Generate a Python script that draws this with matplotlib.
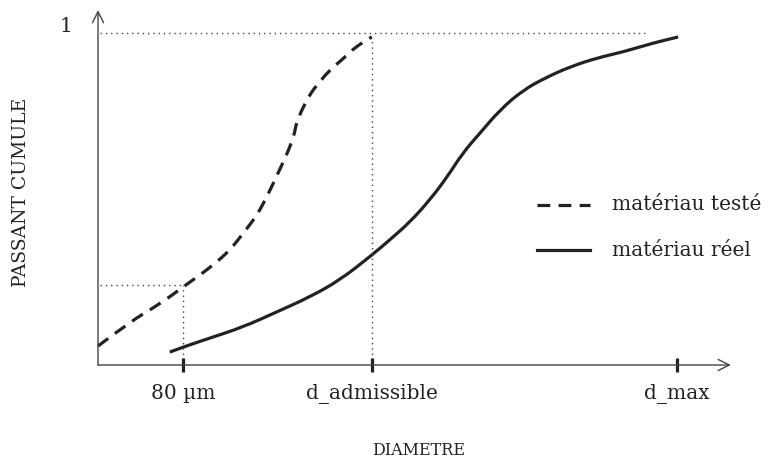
import numpy as np
import matplotlib.pyplot as plt
from matplotlib.path import Path
from matplotlib.patches import PathPatch

plt.rcParams['font.family'] = ['DejaVu Serif']

# axis scale: x normalised so d_max = 1, y = cumulative passing fraction
tick_pos = [0.147, 0.473, 1.0]
tick_labels = ['80 µm', 'd_admissible', 'd_max']

# material tested (dashed)
teste_x = [0.0, 0.055, 0.107, 0.147, 0.171, 0.199, 0.228,
           0.254, 0.275, 0.294, 0.311, 0.328, 0.339, 0.342, 0.352, 0.361, 0.371,
           0.383, 0.397, 0.427, 0.439, 0.458, 0.473]
teste_y = [0.057, 0.130, 0.184, 0.235, 0.265, 0.301, 0.346,
           0.404, 0.452, 0.515, 0.578, 0.642, 0.693, 0.726, 0.768, 0.798, 0.828,
           0.852, 0.883, 0.928, 0.949, 0.973, 0.988]

# real material (solid)
reel_x = [0.124, 0.147, 0.193, 0.250, 0.309, 0.366, 0.418, 0.473, 0.504, 0.539,
          0.573, 0.603, 0.630, 0.660, 0.694, 0.734, 0.775, 0.815, 0.862, 0.907,
          0.959, 1.002]
reel_y = [0.039, 0.054, 0.081, 0.114, 0.160, 0.205, 0.256, 0.331, 0.377, 0.431,
          0.497, 0.566, 0.639, 0.699, 0.768, 0.828, 0.867, 0.898, 0.925, 0.943,
          0.970, 0.988]

x_adm = tick_pos[1]
x_80 = tick_pos[0]
y_80 = 0.24

ink = '#222222'
dash = (0, (4.0, 2.6))
dots = (0, (1, 2.8))


def smooth_path(xs, ys):
    # quadratic bezier through the midpoints, read points used as controls
    pts = np.column_stack([xs, ys])
    verts = [pts[0]]
    codes = [Path.MOVETO]
    for i in range(1, len(pts) - 1):
        verts += [pts[i], (pts[i] + pts[i + 1]) / 2]
        codes += [Path.CURVE3, Path.CURVE3]
    verts.append(pts[-1])
    codes.append(Path.LINETO)
    return Path(verts, codes)


fig = plt.figure(figsize=(7.68, 4.70), dpi=100)
ax = fig.add_axes([0, 0, 1, 1])
ax.set_xlim(-98 / 579, (768 - 98) / 579)
ax.set_ylim((365 - 470) / 332, 365 / 332)
ax.axis('off')

# axes with arrows
ax.annotate('', xy=(1.093, 0), xytext=(0, 0),
            arrowprops=dict(arrowstyle='->', lw=1.0, color='#444444',
                            mutation_scale=20, shrinkA=0, shrinkB=0))
ax.annotate('', xy=(0, 1.069), xytext=(0, 0),
            arrowprops=dict(arrowstyle='->', lw=1.0, color='#444444',
                            mutation_scale=20, shrinkA=0, shrinkB=0))

# dotted guides
ax.plot([0.003, 0.95], [1, 1], color='#444444', lw=1.0, ls=dots)
ax.plot([x_adm, x_adm], [0, 0.985], color='#444444', lw=1.0, ls=dots)
ax.plot([0.003, x_80], [y_80, y_80], color='#444444', lw=1.0, ls=dots)
ax.plot([x_80, x_80], [0, y_80], color='#444444', lw=1.0, ls=dots)

# tick marks and labels
for t, lab in zip(tick_pos, tick_labels):
    ax.plot([t, t], [-0.02, 0.02], color=ink, lw=2.3, solid_capstyle='butt')
    ax.text(t, -0.087, lab, ha='center', va='center', fontsize=14.5, color=ink)

ax.text(-0.055, 1.021, '1', ha='center', va='center', fontsize=14.5, color=ink)
ax.text(-0.133, 0.521, 'PASSANT CUMULE', rotation=90, ha='center', va='center',
        fontsize=13.5, color=ink)
ax.text(0.553, -0.259, 'DIAMETRE', ha='center', va='center', fontsize=11.5,
        color=ink)

# curves
ax.add_patch(PathPatch(smooth_path(teste_x, teste_y), fill=False, edgecolor=ink,
                       lw=2.3, ls=dash, capstyle='butt'))
ax.add_patch(PathPatch(smooth_path(reel_x, reel_y), fill=False, edgecolor=ink,
                       lw=2.3, capstyle='butt', joinstyle='round'))

# legend
ax.plot([0.758, 0.85], [0.482, 0.482], color=ink, lw=2.3, ls=dash)
ax.plot([0.758, 0.85], [0.346, 0.346], color=ink, lw=2.3)
ax.text(0.888, 0.482, 'matériau testé', ha='left', va='center', fontsize=14.5,
        color=ink)
ax.text(0.888, 0.346, 'matériau réel', ha='left', va='center', fontsize=14.5,
        color=ink)

fig.savefig('out.png', dpi=100)
